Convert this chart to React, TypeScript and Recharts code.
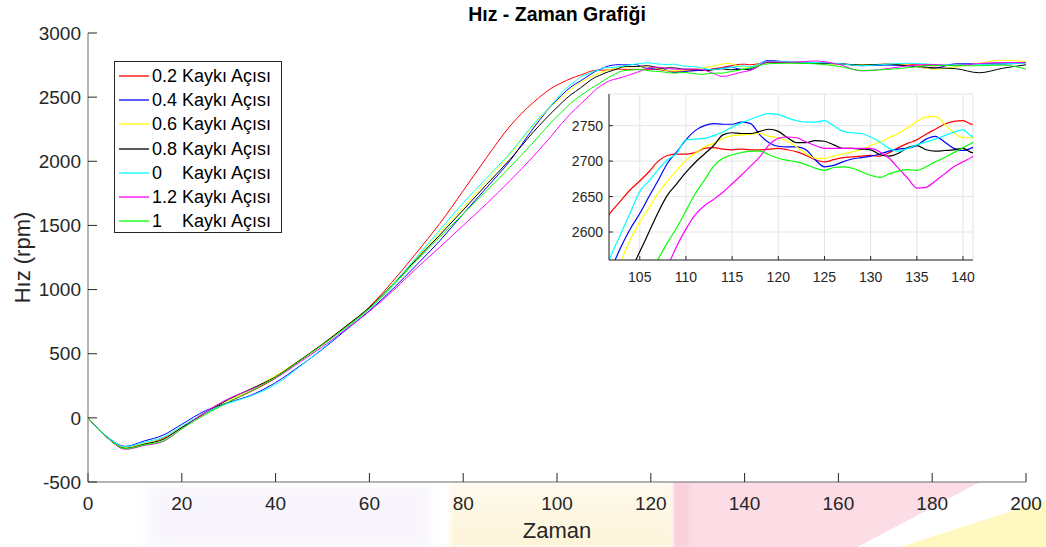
import React from 'react';
import { LineChart, Line, XAxis, YAxis, CartesianGrid } from 'recharts';

// ---------- data ----------
const TIME = [
  0, 4, 8, 12, 16, 20, 25, 30, 35, 40, 45, 50, 55, 60, 65, 70, 75, 80, 85, 90, 95, 100,
  101, 102, 103, 104, 105, 106, 107, 108, 109, 110, 111, 112, 113, 114, 115, 116, 117, 118, 119, 120,
  121, 122, 123, 124, 125, 126, 127, 128, 129, 130, 131, 132, 133, 134, 135, 136, 137, 138, 139, 140, 141,
  145, 150, 155, 160, 165, 170, 175, 180, 185, 190, 195, 200,
];

const S_02 = [
  0, -150, -235, -205, -160, -75, 35, 125, 210, 310, 440, 570, 710, 865, 1065, 1285, 1515, 1770, 2030, 2275, 2460, 2595,
  2612, 2630, 2645, 2660, 2672, 2685, 2700, 2708, 2710, 2710, 2712, 2718, 2719, 2717, 2716, 2717, 2716, 2716, 2717, 2718,
  2716, 2713, 2708, 2702, 2699, 2702, 2705, 2706, 2707, 2708, 2707, 2712, 2719, 2725, 2730, 2738, 2745, 2752, 2756, 2757, 2752,
  2770, 2768, 2765, 2762, 2748, 2755, 2755, 2745, 2748, 2760, 2762, 2775,
];
const S_04 = [
  0, -145, -222, -180, -135, -50, 55, 120, 180, 275, 400, 535, 685, 835, 1005, 1190, 1380, 1590, 1795, 2005, 2260, 2480,
  2515, 2550, 2580, 2605, 2626, 2650, 2673, 2697, 2713, 2730, 2743, 2750, 2753, 2752, 2752, 2755, 2753, 2737, 2726, 2721,
  2720, 2720, 2716, 2702, 2692, 2694, 2699, 2703, 2705, 2707, 2710, 2714, 2717, 2718, 2722, 2731, 2735, 2727, 2718, 2715, 2719,
  2785, 2772, 2768, 2760, 2745, 2750, 2745, 2722, 2760, 2760, 2758, 2768,
];
const S_06 = [
  0, -148, -232, -200, -165, -70, 45, 140, 225, 330, 445, 575, 715, 860, 1045, 1245, 1445, 1640, 1850, 2055, 2280, 2470,
  2500, 2530, 2560, 2590, 2614, 2634, 2655, 2672, 2687, 2701, 2711, 2720, 2725, 2732, 2736, 2737, 2738, 2739, 2735, 2733,
  2728, 2720, 2711, 2704, 2704, 2707, 2710, 2713, 2716, 2722, 2727, 2733, 2739, 2747, 2756, 2762, 2763, 2752, 2740, 2733, 2733,
  2770, 2770, 2765, 2755, 2752, 2757, 2752, 2718, 2735, 2765, 2788, 2778,
];
const S_08 = [
  0, -150, -238, -205, -168, -75, 40, 145, 230, 320, 445, 575, 715, 860, 1040, 1235, 1425, 1620, 1820, 2015, 2230, 2420,
  2455, 2490, 2520, 2545, 2572, 2600, 2628, 2652, 2668, 2684, 2698, 2710, 2722, 2737, 2740, 2739, 2739, 2742, 2745, 2742,
  2733, 2726, 2726, 2729, 2728, 2723, 2718, 2718, 2717, 2716, 2709, 2707, 2711, 2719, 2722, 2716, 2714, 2715, 2716, 2718, 2712,
  2772, 2770, 2765, 2760, 2750, 2757, 2745, 2730, 2722, 2690, 2725, 2752,
];
const S_00 = [
  0, -145, -225, -190, -150, -65, 40, 115, 175, 260, 395, 540, 695, 850, 1040, 1250, 1465, 1675, 1870, 2065, 2290, 2490,
  2535, 2570, 2599, 2628, 2657, 2672, 2688, 2702, 2711, 2730, 2731, 2732, 2736, 2741, 2748, 2754, 2759, 2764, 2767, 2766,
  2761, 2757, 2755, 2755, 2757, 2750, 2742, 2740, 2739, 2734, 2727, 2718, 2714, 2718, 2723, 2727, 2731, 2736, 2741, 2744, 2735,
  2780, 2775, 2770, 2762, 2745, 2755, 2765, 2755, 2750, 2755, 2760, 2765,
];
const S_12 = [
  0, -152, -245, -215, -185, -85, 45, 150, 225, 310, 430, 555, 690, 830, 990, 1165, 1330, 1500, 1670, 1850, 2040, 2250,
  2295, 2335, 2375, 2410, 2445, 2480, 2515, 2550, 2580, 2604, 2624, 2637, 2646, 2656, 2668, 2680, 2693, 2706, 2723, 2732,
  2734, 2733, 2727, 2722, 2718, 2718, 2718, 2718, 2718, 2718, 2713, 2704, 2690, 2676, 2662, 2663, 2672, 2682, 2692, 2699, 2706,
  2775, 2772, 2782, 2755, 2705, 2720, 2745, 2755, 2745, 2762, 2770, 2770,
];
const S_10 = [
  0, -150, -240, -210, -180, -85, 25, 125, 215, 315, 440, 570, 705, 850, 1030, 1225, 1410, 1590, 1770, 1955, 2150, 2350,
  2385, 2420, 2455, 2485, 2510, 2538, 2562, 2585, 2606, 2630, 2654, 2673, 2693, 2704, 2709, 2712, 2714, 2714, 2709, 2704,
  2701, 2699, 2695, 2690, 2687, 2691, 2692, 2690, 2685, 2680, 2677, 2682, 2686, 2688, 2687, 2692, 2699, 2705, 2712, 2719, 2726,
  2760, 2765, 2760, 2740, 2708, 2715, 2730, 2748, 2745, 2745, 2750, 2718,
];

const SERIES_KEYS = ['k02', 'k04', 'k06', 'k08', 'k00', 'k12', 'k10'];
const SERIES_NAMES = [
  '0.2 Kaykı Açısı',
  '0.4 Kaykı Açısı',
  '0.6 Kaykı Açısı',
  '0.8 Kaykı Açısı',
  '0    Kaykı Açısı',
  '1.2 Kaykı Açısı',
  '1    Kaykı Açısı',
];
const SERIES_VALUES = [S_02, S_04, S_06, S_08, S_00, S_12, S_10];
const SERIES_COLORS = ['#ff0000', '#0000ff', '#ffff00', '#000000', '#00ffff', '#ff00ff', '#00ff00'];

const MAIN_X_TICKS = [0, 20, 40, 60, 80, 100, 120, 140, 160, 180, 200];
const MAIN_Y_TICKS = [-500, 0, 500, 1000, 1500, 2000, 2500, 3000];
const INSET_X_TICKS = [105, 110, 115, 120, 125, 130, 135, 140];
const INSET_Y_TICKS = [2600, 2650, 2700, 2750];
const INSET_X_DOMAIN = [101.67, 141.08];
const INSET_Y_DOMAIN = [2560.5, 2794.7];

const TITLE = 'Hız - Zaman Grafiği';
const X_LABEL = 'Zaman';
const Y_LABEL = 'Hız (rpm)';

const data = TIME.map((t, i) => {
  const row: Record<string, number> = { t };
  SERIES_KEYS.forEach((k, j) => {
    row[k] = SERIES_VALUES[j][i];
  });
  return row;
});

// ---------- styles ----------
const FONT = '"Liberation Sans", Arial, Helvetica, sans-serif';
const INK = '#262626';
const AXIS = '#6a6a6a';

const renderLines = (width: number) =>
  SERIES_KEYS.map((k, j) => (
    <Line
      key={k}
      type="monotone"
      dataKey={k}
      name={SERIES_NAMES[j]}
      stroke={SERIES_COLORS[j]}
      strokeWidth={width}
      dot={false}
      activeDot={false}
      isAnimationActive={false}
    />
  ));

const YLabel = (props: any) => {
  const vb = props.viewBox || {};
  const cx = (vb.x || 0) + 22;
  const cy = (vb.y || 0) + (vb.height || 0) / 2;
  return (
    <text
      x={cx}
      y={cy}
      transform={`rotate(-90 ${cx} ${cy})`}
      textAnchor="middle"
      dominantBaseline="central"
      fill={INK}
      fontSize={22}
      fontFamily={FONT}
    >
      {Y_LABEL}
    </text>
  );
};

export default function App() {
  return (
    <div
      style={{
        position: 'absolute',
        left: 0,
        top: 0,
        width: 1046,
        height: 547,
        background: '#fff',
        overflow: 'hidden',
        fontFamily: FONT,
      }}
    >
      {/* faint watermark colours under the x axis */}
      <div style={{ position: 'absolute', left: 150, top: 486, width: 280, height: 61, background: '#f8f5fc', filter: 'blur(6px)' }} />
      <div style={{ position: 'absolute', left: 450, top: 482, width: 222, height: 65, background: 'linear-gradient(180deg, #fefaee 0%, #fdf4d8 100%)', filter: 'blur(2px)' }} />
      <div style={{ position: 'absolute', left: 674, top: 482, width: 306, height: 65, background: '#fcdde6', clipPath: 'polygon(0 0, 100% 0, 60% 100%, 0 100%)' }} />
      <div style={{ position: 'absolute', left: 674, top: 482, width: 16, height: 65, background: '#fad0dc', filter: 'blur(2px)' }} />
      <div style={{ position: 'absolute', left: 900, top: 500, width: 146, height: 47, background: '#fff8c0', clipPath: 'polygon(100% 0, 100% 100%, 0 100%)' }} />

      <div style={{ position: 'absolute', left: 0, top: 0, zIndex: 1 }}>
        <LineChart width={1046} height={547} data={data} margin={{ top: 33, right: 20, left: 0, bottom: 0 }}>
          <CartesianGrid horizontal={false} vertical={false} fill="#ffffff" />
          <XAxis
            dataKey="t"
            type="number"
            domain={[0, 200]}
            ticks={MAIN_X_TICKS}
            interval={0}
            height={65}
            tickSize={-9}
            tickMargin={24}
            axisLine={{ stroke: AXIS }}
            tickLine={{ stroke: INK }}
            tick={{ fill: INK, fontSize: 19, fontFamily: FONT }}
            label={{ value: X_LABEL, position: 'insideBottom', offset: 9, fill: INK, fontSize: 22, fontFamily: FONT }}
          />
          <XAxis
            xAxisId="top"
            orientation="top"
            dataKey="t"
            type="number"
            domain={[0, 200]}
            ticks={MAIN_X_TICKS}
            interval={0}
            height={0}
            tickSize={-9}
            tick={false}
            axisLine={{ stroke: AXIS }}
            tickLine={{ stroke: INK }}
          />
          <YAxis
            type="number"
            domain={[-500, 3000]}
            ticks={MAIN_Y_TICKS}
            interval={0}
            width={88}
            tickSize={-9}
            tickMargin={16}
            axisLine={{ stroke: AXIS }}
            tickLine={{ stroke: INK }}
            tick={{ fill: INK, fontSize: 19, fontFamily: FONT }}
            label={<YLabel />}
          />
          <YAxis
            yAxisId="right"
            orientation="right"
            type="number"
            domain={[-500, 3000]}
            ticks={MAIN_Y_TICKS}
            interval={0}
            width={0}
            tickSize={-9}
            tick={false}
            axisLine={{ stroke: INK }}
            tickLine={{ stroke: INK }}
          />
          {renderLines(1)}
        </LineChart>
      </div>

      {/* title */}
      <div
        style={{
          position: 'absolute',
          left: 88,
          top: 3,
          width: 938,
          textAlign: 'center',
          fontWeight: 'bold',
          fontSize: 19.5,
          color: '#000',
          zIndex: 2,
          lineHeight: '22px',
        }}
      >
        {TITLE}
      </div>

      {/* legend */}
      <div
        style={{
          position: 'absolute',
          left: 114,
          top: 61,
          width: 168,
          height: 172,
          border: `1px solid ${INK}`,
          background: '#fff',
          zIndex: 3,
          boxSizing: 'border-box',
          paddingTop: 2,
        }}
      >
        {SERIES_NAMES.map((name, j) => (
          <div key={name} style={{ display: 'flex', alignItems: 'center', height: 24.2 }}>
            <svg width={30} height={4} style={{ marginLeft: 4, marginRight: 3, display: 'block' }}>
              <line x1={0} y1={2} x2={30} y2={2} stroke={SERIES_COLORS[j]} strokeWidth={1.3} />
            </svg>
            <span style={{ whiteSpace: 'pre', fontSize: 18, color: '#000', lineHeight: '20px' }}>{name}</span>
          </div>
        ))}
      </div>

      {/* inset zoom */}
      <div style={{ position: 'absolute', left: 560, top: 90, zIndex: 4 }}>
        <LineChart width={420} height={195} data={data} margin={{ top: 4, right: 7, left: 0, bottom: 0 }}>
          <CartesianGrid stroke="#e4e4e4" fill="#ffffff" />
          <XAxis
            dataKey="t"
            type="number"
            domain={INSET_X_DOMAIN}
            allowDataOverflow
            ticks={INSET_X_TICKS}
            interval={0}
            height={25}
            tickSize={-4}
            tickMargin={16}
            axisLine={{ stroke: INK }}
            tickLine={{ stroke: INK }}
            tick={{ fill: INK, fontSize: 14, fontFamily: FONT }}
          />
          <XAxis
            xAxisId="top"
            orientation="top"
            dataKey="t"
            type="number"
            domain={INSET_X_DOMAIN}
            allowDataOverflow
            ticks={INSET_X_TICKS}
            interval={0}
            height={0}
            tickSize={-4}
            tick={false}
            axisLine={{ stroke: INK }}
            tickLine={{ stroke: INK }}
          />
          <YAxis
            type="number"
            domain={INSET_Y_DOMAIN}
            allowDataOverflow
            ticks={INSET_Y_TICKS}
            interval={0}
            width={49}
            tickSize={-4}
            tickMargin={10}
            axisLine={{ stroke: INK }}
            tickLine={{ stroke: INK }}
            tick={{ fill: INK, fontSize: 14, fontFamily: FONT }}
          />
          <YAxis
            yAxisId="right"
            orientation="right"
            type="number"
            domain={INSET_Y_DOMAIN}
            allowDataOverflow
            ticks={INSET_Y_TICKS}
            interval={0}
            width={0}
            tickSize={-4}
            tick={false}
            axisLine={{ stroke: INK }}
            tickLine={{ stroke: INK }}
          />
          {renderLines(1.2)}
        </LineChart>
      </div>
    </div>
  );
}
